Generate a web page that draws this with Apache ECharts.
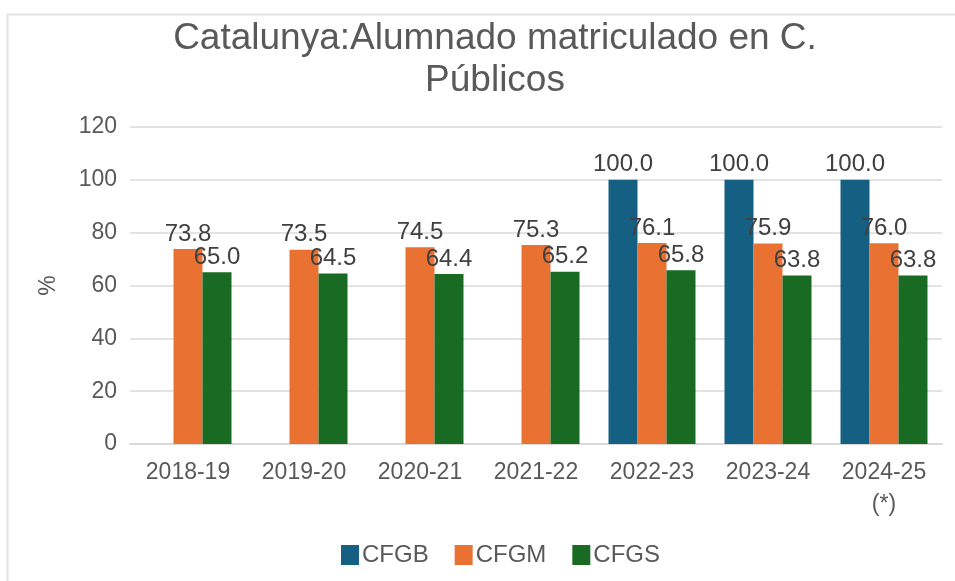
<!DOCTYPE html>
<html>
<head>
<meta charset="utf-8">
<script src="https://cdn.jsdelivr.net/npm/echarts@6/dist/echarts.min.js"></script>
<style>
  html, body { margin: 0; padding: 0; background: #fff; }
  #chart { width: 955px; height: 581px; }
</style>
</head>
<body>
<div id="chart"></div>
<script>
var categories = ['2018-19', '2019-20', '2020-21', '2021-22', '2022-23', '2023-24', '2024-25\n(*)'];
var cfgb = [null, null, null, null, 100.0, 100.0, 100.0];
var cfgm = [73.8, 73.5, 74.5, 75.3, 76.1, 75.9, 76.0];
var cfgs = [65.0, 64.5, 64.4, 65.2, 65.8, 63.8, 63.8];
var yTicks = { min: 0, max: 120, interval: 20 };

var font = '"Liberation Sans", Arial, sans-serif';
var labelStyle = {
    show: true,
    position: 'top',
    distance: 3,
    color: '#404040',
    fontSize: 24,
    fontFamily: font,
    formatter: function (p) { return p.value == null ? '' : p.value.toFixed(1); }
};

function barSeries(name, data, color) {
    return {
        name: name,
        type: 'bar',
        data: data,
        itemStyle: { color: color },
        label: labelStyle,
        barGap: '0%',
        barCategoryGap: '25%'
    };
}

var chart = echarts.init(document.getElementById('chart'), null, { renderer: 'canvas' });
chart.setOption({
    animation: false,
    backgroundColor: '#fff',
    graphic: [{
        type: 'rect',
        shape: { x: 7.5, y: 14.5, width: 980, height: 600 },
        style: { fill: 'none', stroke: '#e3e3e3', lineWidth: 2 },
        silent: true,
        z: -1
    }],
    title: {
        text: 'Catalunya:Alumnado matriculado en C.\nPúblicos',
        left: 490,
        textAlign: 'center',
        top: 13,
        textStyle: {
            color: '#595959',
            fontSize: 37,
            fontWeight: 'normal',
            fontFamily: font,
            lineHeight: 42
        }
    },
    legend: {
        left: 336,
        top: 538,
        itemWidth: 18,
        itemHeight: 20,
        itemGap: 26,
        icon: 'rect',
        textStyle: { color: '#595959', fontSize: 24, fontFamily: font, padding: [0, 0, 0, -2] },
        data: ['CFGB', 'CFGM', 'CFGS']
    },
    grid: { left: 130, right: 13, top: 127, bottom: 137 },
    xAxis: {
        type: 'category',
        data: categories,
        axisLine: { lineStyle: { color: '#d9d9d9', width: 2 } },
        axisTick: { show: false },
        axisLabel: {
            color: '#595959',
            fontSize: 23,
            fontFamily: font,
            margin: 13,
            lineHeight: 32,
            interval: 0
        }
    },
    yAxis: {
        type: 'value',
        min: yTicks.min,
        max: yTicks.max,
        interval: yTicks.interval,
        name: '%',
        nameLocation: 'middle',
        nameGap: 70,
        nameRotate: 90,
        nameTextStyle: { color: '#595959', fontSize: 23, fontFamily: font },
        axisLine: { show: false },
        axisTick: { show: false },
        splitLine: { lineStyle: { color: '#e3e3e3', width: 2 } },
        axisLabel: { color: '#595959', fontSize: 23, fontFamily: font, margin: 13 }
    },
    series: [
        barSeries('CFGB', cfgb, '#156082'),
        barSeries('CFGM', cfgm, '#E97132'),
        barSeries('CFGS', cfgs, '#196B24')
    ]
});
</script>
</body>
</html>
